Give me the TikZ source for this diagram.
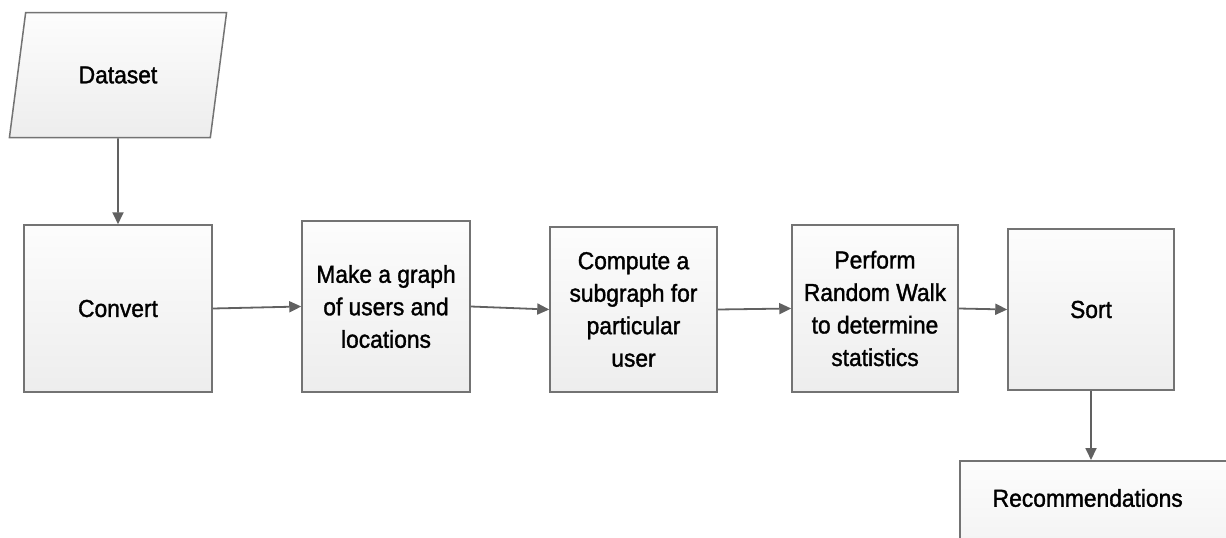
\documentclass[tikz,border=0pt]{standalone}
\usepackage{fontspec}
\setmainfont{Liberation Sans}[FakeBold=1.4,FakeStretch=0.93]
\usetikzlibrary{arrows.meta,positioning,shapes.geometric}

\begin{document}
\begin{tikzpicture}[x=1pt,y=-1pt,>={Triangle[length=12pt,width=11pt]}]
    \tikzstyle{box}=[rectangle,draw=black!55,line width=1.5pt,top color=black!1,bottom color=black!7,align=center,font=\fontsize{24.5}{32.5}\selectfont,inner sep=0pt]
    \tikzstyle{flow}=[->,draw=black!62,fill=black!62,line width=1.8pt]
    \clip (0,0) rectangle (1226,538);
    \node[box,trapezium,trapezium left angle=68,trapezium right angle=112,trapezium stretches=true,minimum width=218pt,minimum height=125pt] (data) at (118,75) {Dataset};
    \node[box,minimum width=188pt,minimum height=167pt] (conv) at (118,308.5) {Convert};
    \node[box,minimum width=168pt,minimum height=171pt] (graph) at (386,306.5) {Make a graph\\of users and\\locations};
    \node[box,minimum width=167pt,minimum height=165pt] (sub) at (633.5,309.5) {Compute a\\subgraph for\\particular\\user};
    \node[box,minimum width=166pt,minimum height=167pt] (walk) at (875,308.5) {Perform\\Random Walk\\to determine\\statistics};
    \node[box,minimum width=166pt,minimum height=161pt] (sort) at (1091,309.5) {Sort};
    \node[box,anchor=north west,align=left,text width=240pt,inner xsep=33pt,inner ysep=28pt,text height=18pt,text depth=70pt] (rec) at (959,460) {Recommendations};
    \draw[flow] (data.south) -- (conv.north);
    \draw[flow] (conv.east) -- (graph.west);
    \draw[flow] (graph.east) -- (sub.west);
    \draw[flow] (sub.east) -- (walk.west);
    \draw[flow] (walk.east) -- (sort.west);
    \draw[flow] (sort.south) -- (sort.south |- rec.north);
\end{tikzpicture}
\end{document}
